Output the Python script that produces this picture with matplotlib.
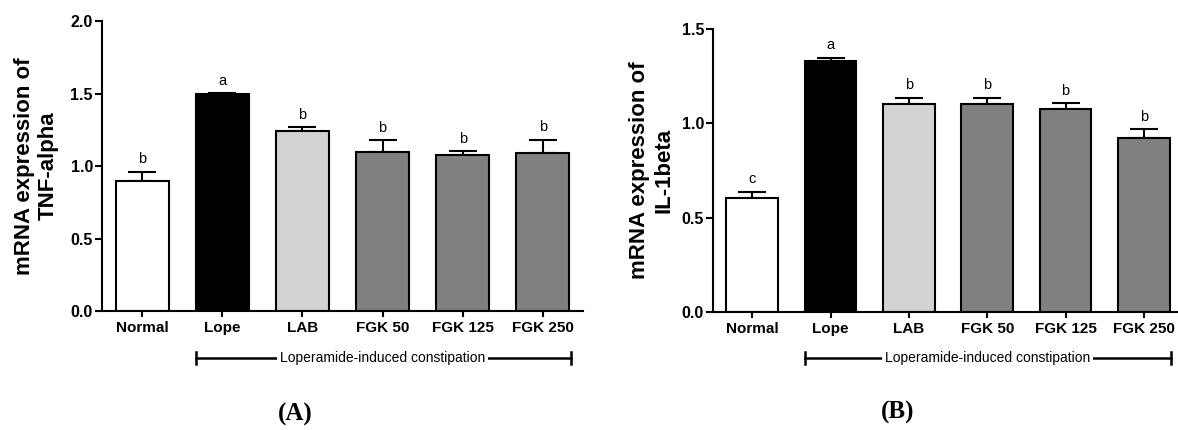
import matplotlib

matplotlib.use("Agg")
import matplotlib.pyplot as plt
import matplotlib.transforms as mtrans

groups = ["Normal", "Lope", "LAB", "FGK 50", "FGK 125", "FGK 250"]
bar_colors = ["white", "black", "#d3d3d3", "#808080", "#808080", "#808080"]

tnf_mean = [0.90, 1.50, 1.24, 1.10, 1.075, 1.09]
tnf_err = [0.06, 0.003, 0.028, 0.078, 0.028, 0.092]
tnf_letters = ["b", "a", "b", "b", "b", "b"]

il1b_mean = [0.605, 1.333, 1.10, 1.10, 1.075, 0.922]
il1b_err = [0.032, 0.015, 0.035, 0.035, 0.032, 0.047]
il1b_letters = ["c", "a", "b", "b", "b", "b"]

BRACKET_TEXT = "Loperamide-induced constipation"

plt.rcParams["font.family"] = ["Liberation Sans", "DejaVu Sans"]


def panel(ax, means, errs, letters, ylim, yticks):
    x = list(range(len(groups)))
    ax.bar(x, means, width=0.66, color=bar_colors, edgecolor="black",
           linewidth=1.5, zorder=2)
    ax.errorbar(x, means, yerr=[[0] * len(errs), errs], fmt="none",
                ecolor="black", elinewidth=1.5, capsize=10, capthick=1.5,
                zorder=1)
    for xi, m, e, lab in zip(x, means, errs, letters):
        ax.annotate(lab, (xi, m + e), xytext=(0, 4), textcoords="offset points",
                    ha="center", va="bottom", fontsize=10.5)
    ax.set_xlim(-0.5, 5.5)
    ax.set_ylim(*ylim)
    ax.set_yticks(yticks)
    ax.set_yticklabels([f"{t:.1f}" for t in yticks], fontweight="bold",
                       fontsize=11.5)
    ax.set_xticks(x)
    ax.set_xticklabels(groups, fontweight="bold", fontsize=11)
    for s in ("top", "right"):
        ax.spines[s].set_visible(False)
    for s in ("left", "bottom"):
        ax.spines[s].set_linewidth(1.5)
    ax.tick_params(axis="y", length=5, width=1.5, pad=1.5)
    ax.tick_params(axis="x", length=4, width=1.5, pad=3)

    # bracket under the loperamide groups
    tr = mtrans.blended_transform_factory(ax.transData, ax.transAxes)
    yb = -0.162
    ax.plot([0.67, 5.35], [yb, yb], color="black", lw=1.8, transform=tr,
            clip_on=False)
    for xe in (0.67, 5.35):
        ax.plot([xe, xe], [yb - 0.02, yb + 0.02], color="black", lw=1.8,
                transform=tr, clip_on=False)
    ax.text(3.0, yb, BRACKET_TEXT, transform=tr, ha="center", va="center",
            fontsize=10, bbox=dict(facecolor="white", edgecolor="none", pad=2))


fig = plt.figure(figsize=(11.78, 4.30), dpi=100)
axA = fig.add_axes([0.0866, 0.2767, 0.4083, 0.6744])
axB = fig.add_axes([0.6053, 0.2744, 0.3990, 0.6581])

panel(axA, tnf_mean, tnf_err, tnf_letters, (0, 2.0), [0.0, 0.5, 1.0, 1.5, 2.0])
panel(axB, il1b_mean, il1b_err, il1b_letters, (0, 1.5), [0.0, 0.5, 1.0, 1.5])

fig.text(0.031, 0.614, "mRNA expression of\nTNF-alpha", rotation=90,
         ha="center", va="center", fontsize=16, fontweight="bold",
         multialignment="center")
fig.text(0.5535, 0.604, "mRNA expression of\nIL-1beta", rotation=90,
         ha="center", va="center", fontsize=16, fontweight="bold",
         multialignment="center")

fig.text(0.251, 0.035, "(A)", ha="center", va="center", fontsize=18,
         fontweight="bold", family="Liberation Serif")
fig.text(0.762, 0.04, "(B)", ha="center", va="center", fontsize=18,
         fontweight="bold", family="Liberation Serif")

fig.savefig("out.png", dpi=100)
